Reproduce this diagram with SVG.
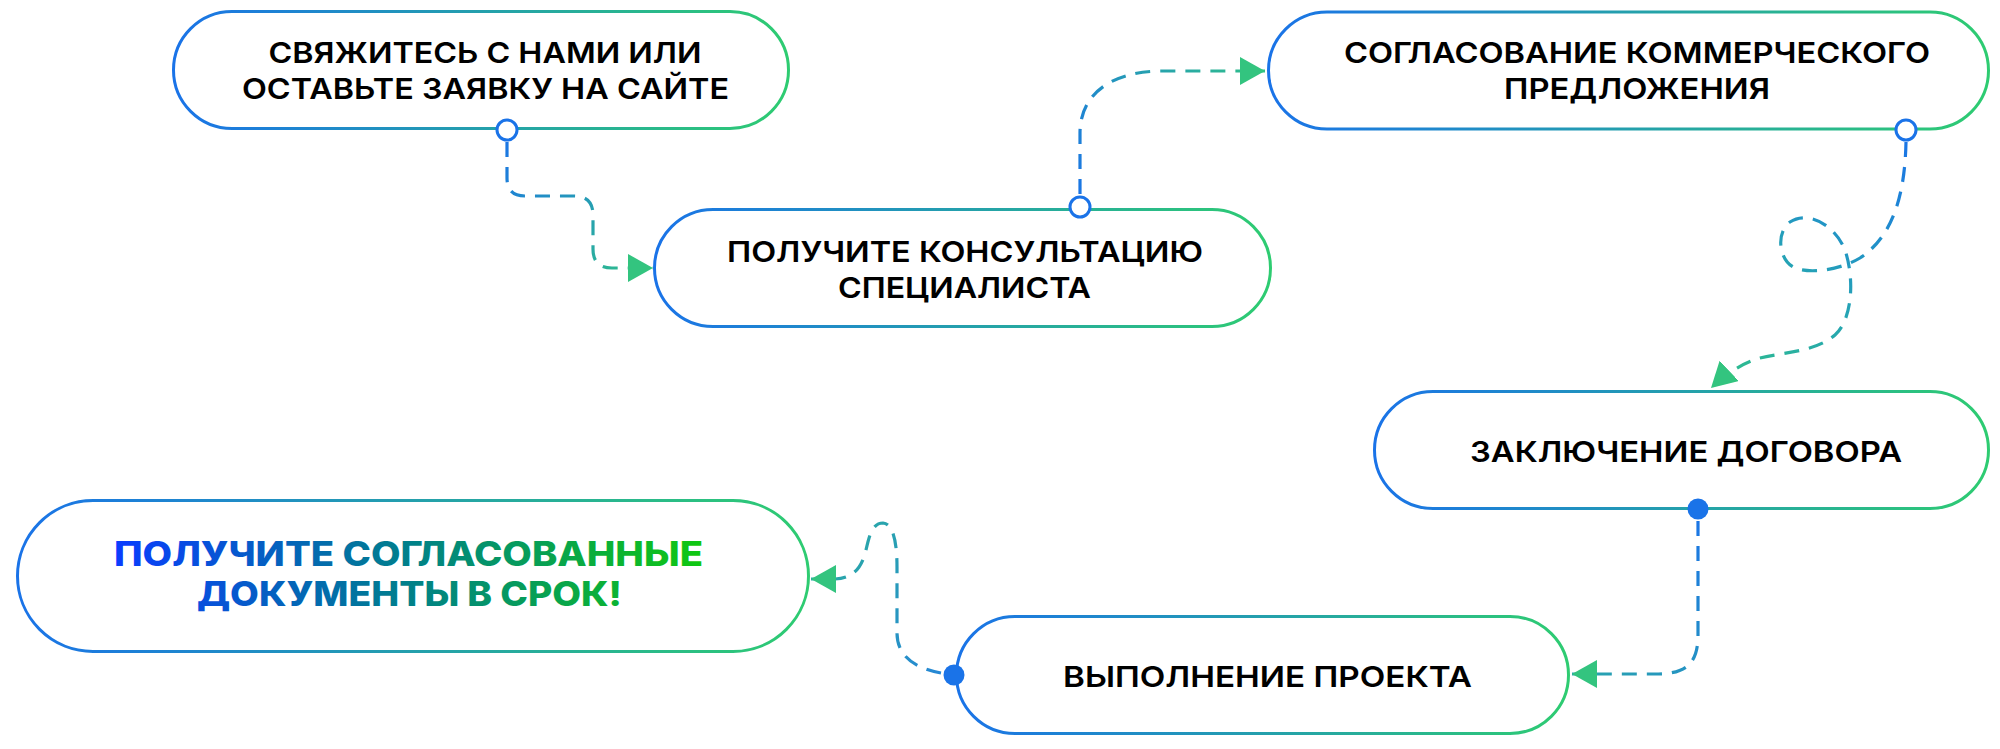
<svg xmlns="http://www.w3.org/2000/svg" width="2000" height="749" viewBox="0 0 2000 749">
<style>
.node{fill:#fff;stroke:url(#gBorder);stroke-width:3}
.lbl{font-family:Inter,"Open Sans","Liberation Sans",sans-serif;font-weight:600;font-size:29px;fill:#000;text-anchor:middle}
.big{font-family:Inter,"Open Sans","Liberation Sans",sans-serif;font-weight:800;font-size:34px;fill:url(#gText);text-anchor:middle}
.conn{fill:none;stroke-width:3.2;stroke-dasharray:15 10}
.port{fill:#fff;stroke:#1a73e8;stroke-width:3}
.dot{fill:#1a73e8}
</style>
<defs>
<linearGradient id="gBorder" x1="0" y1="0" x2="1" y2="0">
<stop offset="0" stop-color="#1a73e8"/>
<stop offset="1" stop-color="#2ecc71"/>
</linearGradient>
<linearGradient id="gText" gradientUnits="userSpaceOnUse" x1="114" y1="0" x2="703" y2="0">
<stop offset="0" stop-color="#0a3cff"/>
<stop offset="0.5" stop-color="#00808a"/>
<stop offset="1" stop-color="#10c810"/>
</linearGradient>
<linearGradient id="g1" gradientUnits="userSpaceOnUse" x1="507" y1="130" x2="653" y2="268">
<stop offset="0" stop-color="#1a73e8"/><stop offset="1" stop-color="#2fc088"/>
</linearGradient>
<linearGradient id="g2" gradientUnits="userSpaceOnUse" x1="1080" y1="205" x2="1265" y2="71">
<stop offset="0" stop-color="#1a73e8"/><stop offset="1" stop-color="#2fc088"/>
</linearGradient>
<linearGradient id="g3" gradientUnits="userSpaceOnUse" x1="1906" y1="130" x2="1711" y2="388">
<stop offset="0" stop-color="#1a73e8"/><stop offset="0.55" stop-color="#25a3b5"/><stop offset="1" stop-color="#2fc088"/>
</linearGradient>
<linearGradient id="g4" gradientUnits="userSpaceOnUse" x1="1698" y1="509" x2="1572" y2="674">
<stop offset="0" stop-color="#1a73e8"/><stop offset="1" stop-color="#2aa5ad"/>
</linearGradient>
<linearGradient id="g5" gradientUnits="userSpaceOnUse" x1="952" y1="674" x2="811" y2="579">
<stop offset="0" stop-color="#2585d8"/><stop offset="1" stop-color="#2aaaa5"/>
</linearGradient>
<marker id="arrow" markerUnits="userSpaceOnUse" markerWidth="25" markerHeight="28" viewBox="0 0 25 28" refX="25" refY="14" orient="auto">
<path d="M0,0 L25,14 L0,28 Z" fill="#33c47f"/>
</marker>
</defs>

<g id="connectors">
<path class="conn" stroke="url(#g1)" d="M507,142 L507,178 Q507,196 525,196 L574,196 Q593,196 593,215 L593,249 Q593,268 612,268 L653,268" marker-end="url(#arrow)"/>
<path class="conn" stroke="url(#g2)" d="M1080,194 L1080,133 C1080,95 1110,71 1163,71 L1265,71" marker-end="url(#arrow)"/>
<path class="conn" stroke="url(#g3)" d="M1906,142 C1905,190 1895,235 1860,258 C1840,270 1810,274 1795,268 C1778,260 1776,232 1790,222 C1808,210 1835,225 1845,250 C1855,280 1852,320 1835,335 C1815,352 1785,352 1760,358 C1745,362 1728,372 1711,388" marker-end="url(#arrow)"/>
<path class="conn" stroke="url(#g4)" d="M1698,521 L1698,635 C1698,665 1685,674 1655,674 L1572,674" marker-end="url(#arrow)"/>
<path class="conn" stroke="url(#g5)" d="M941,673 C925,670 897,662 897,633 L897,567 C897,545 894,524 883,523 C872,523 869,537 866,550 C862,566 855,578 835,579 L811,579" marker-end="url(#arrow)"/>
</g>

<g id="node1">
<rect class="node" x="173.5" y="11.5" width="615" height="117" rx="58.5"/>
<text class="lbl" x="485" y="63" textLength="433" lengthAdjust="spacingAndGlyphs">СВЯЖИТЕСЬ С НАМИ ИЛИ</text>
<text class="lbl" x="485.5" y="99" textLength="487" lengthAdjust="spacingAndGlyphs">ОСТАВЬТЕ ЗАЯВКУ НА САЙТЕ</text>
<circle class="port" cx="507" cy="130" r="10"/>
</g>

<g id="node2">
<rect class="node" x="654.5" y="209.5" width="616" height="117" rx="58.5"/>
<text class="lbl" x="965" y="262" textLength="476" lengthAdjust="spacingAndGlyphs">ПОЛУЧИТЕ КОНСУЛЬТАЦИЮ</text>
<text class="lbl" x="964.5" y="298" textLength="253" lengthAdjust="spacingAndGlyphs">СПЕЦИАЛИСТА</text>
<circle class="port" cx="1080" cy="207" r="10"/>
</g>

<g id="node3">
<rect class="node" x="1268.5" y="12" width="720" height="117" rx="58.5"/>
<text class="lbl" x="1637" y="63" textLength="586" lengthAdjust="spacingAndGlyphs">СОГЛАСОВАНИЕ КОММЕРЧЕСКОГО</text>
<text class="lbl" x="1637" y="99" textLength="266" lengthAdjust="spacingAndGlyphs">ПРЕДЛОЖЕНИЯ</text>
<circle class="port" cx="1906" cy="130" r="10"/>
</g>

<g id="node4">
<rect class="node" x="1374.5" y="391.5" width="614" height="117" rx="58.5"/>
<text class="lbl" x="1686" y="462" textLength="432" lengthAdjust="spacingAndGlyphs">ЗАКЛЮЧЕНИЕ ДОГОВОРА</text>
<circle class="dot" cx="1698" cy="509" r="10.5"/>
</g>

<g id="node5">
<rect class="node" x="956.5" y="616.5" width="612" height="117" rx="58.5"/>
<text class="lbl" x="1267.5" y="687" textLength="409" lengthAdjust="spacingAndGlyphs">ВЫПОЛНЕНИЕ ПРОЕКТА</text>
<circle class="dot" cx="954" cy="675" r="10.5"/>
</g>

<g id="node6">
<rect class="node" x="17.5" y="500.5" width="791" height="151" rx="75.5"/>
<text class="big" x="408.5" y="566" textLength="589" lengthAdjust="spacingAndGlyphs">ПОЛУЧИТЕ СОГЛАСОВАННЫЕ</text>
<text class="big" x="409.5" y="606" textLength="425" lengthAdjust="spacingAndGlyphs">ДОКУМЕНТЫ В СРОК!</text>
</g>
</svg>
